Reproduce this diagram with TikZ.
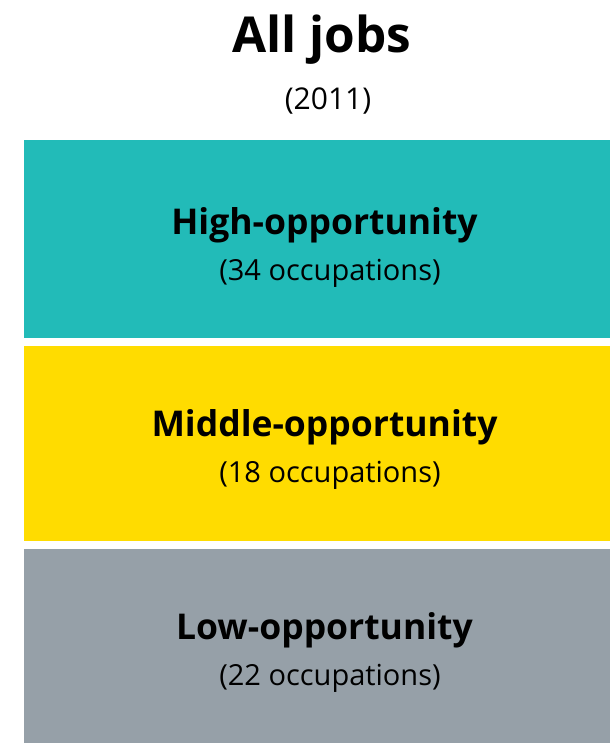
\documentclass[tikz,border=0pt]{standalone}
\usepackage{fontspec}
\setmainfont{Open Sans}
\definecolor{hiteal}{HTML}{22BBB8}
\definecolor{midyellow}{HTML}{FFDC00}
\definecolor{logrey}{HTML}{96A0A8}
\tikzset{
  head/.style={anchor=base, font=\fontsize{35.5}{42}\selectfont\bfseries},
  sub/.style={anchor=base, font=\fontsize{29}{34}\selectfont},
}
\begin{document}
\begin{tikzpicture}[x=1pt,y=-1pt]
  \useasboundingbox (0,0) rectangle (610,743);
  % title
  \node[anchor=base, font=\fontsize{49.5}{58}\selectfont\bfseries] (title) at (322,53) {All jobs};
  \node[sub, font=\fontsize{30}{35}\selectfont] (year) at (328,110) {(2011)};
  % bands
  \fill[hiteal] (24,140) rectangle (610,338);
  \fill[midyellow] (24,346) rectangle (610,541);
  \fill[logrey] (24,549) rectangle (610,743);
  \node[head] (high) at (324.5,234) {High-opportunity};
  \node[sub] (highn) at (330,280) {(34 occupations)};
  \node[head] (mid) at (324.5,436) {Middle-opportunity};
  \node[sub] (midn) at (330,482) {(18 occupations)};
  \node[head] (low) at (324.5,639) {Low-opportunity};
  \node[sub] (lown) at (330,685) {(22 occupations)};
\end{tikzpicture}
\end{document}
